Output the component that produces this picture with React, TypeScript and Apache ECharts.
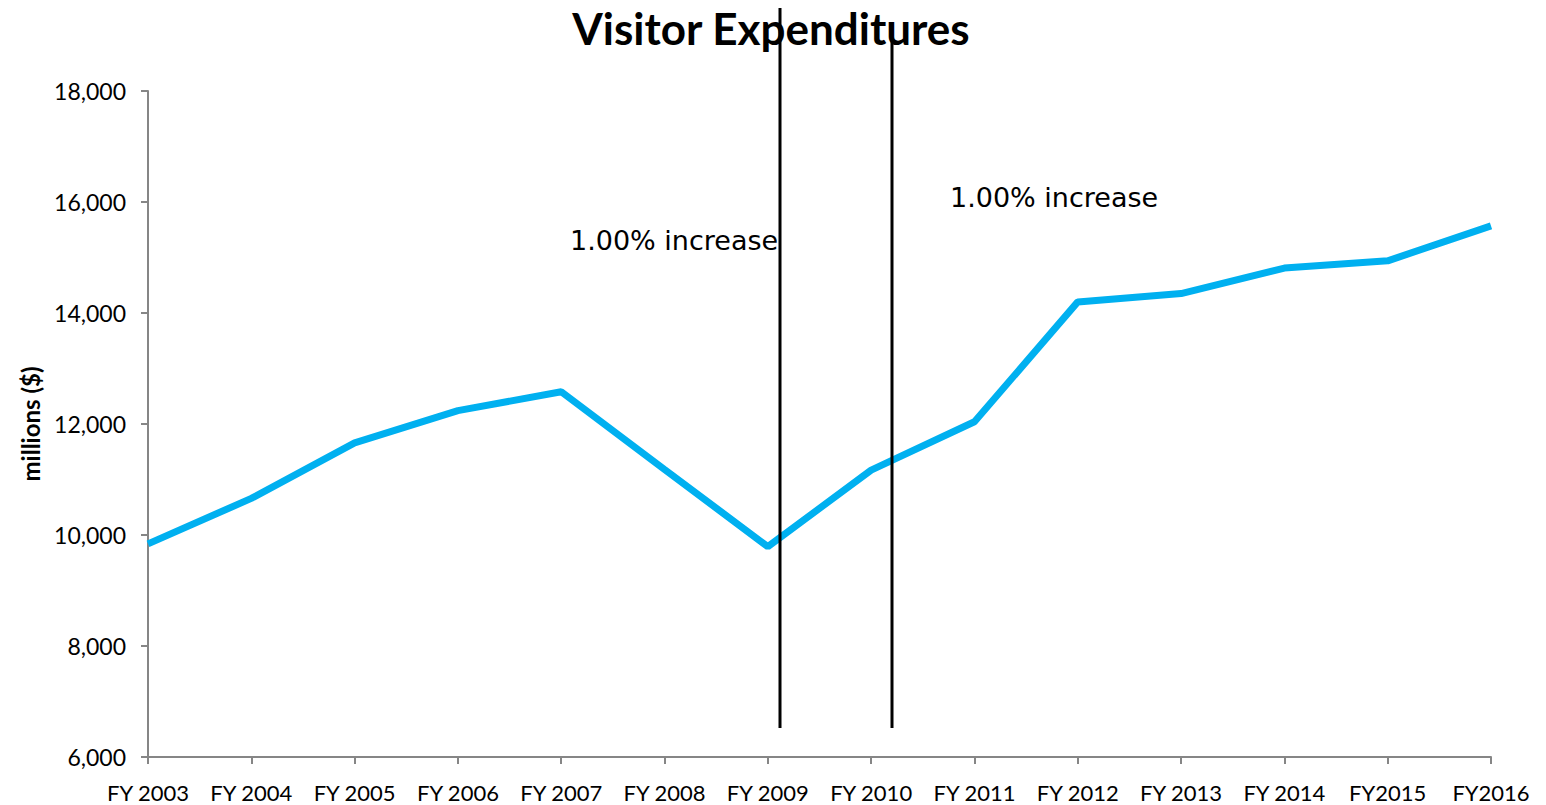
import React, { useEffect, useRef } from "react";
import * as echarts from "echarts";

const categories = ["FY 2003", "FY 2004", "FY 2005", "FY 2006", "FY 2007", "FY 2008", "FY 2009", "FY 2010", "FY 2011", "FY 2012", "FY 2013", "FY 2014", "FY2015", "FY2016"];
const expenditures = [9840, 10660, 11660, 12240, 12580, 11180, 9790, 11170, 12040, 14200, 14350, 14810, 14940, 15570];
const yTicks = { min: 6000, max: 18000, interval: 2000 };
const annotationText = "1.00% increase";

export default function App() {
  const ref = useRef<HTMLDivElement>(null);
  useEffect(() => {
    if (!ref.current) return;
    const chart = echarts.init(ref.current, null, { renderer: "svg" });
    const labelFont = "Lato, 'Open Sans', sans-serif";
    const annFont = "'DejaVu Sans', sans-serif";
    chart.setOption({
      animation: false,
      backgroundColor: "#ffffff",
      title: {
        text: "Visitor Expenditures",
        left: 766,
        textAlign: "center",
        top: 1,
        textStyle: { fontFamily: labelFont, fontWeight: "bold", fontSize: 44, color: "#000" },
      },
      grid: { left: 148, right: 55, top: 91, bottom: 48 },
      xAxis: {
        type: "category",
        data: categories,
        boundaryGap: false,
        axisLine: { lineStyle: { color: "#868686", width: 2 } },
        axisTick: { alignWithLabel: true, length: 7, lineStyle: { color: "#868686", width: 2 } },
        axisLabel: { interval: 0, fontFamily: labelFont, fontSize: 22, color: "#000", margin: 24 },
      },
      yAxis: {
        type: "value",
        min: yTicks.min,
        max: yTicks.max,
        interval: yTicks.interval,
        name: "millions ($)",
        nameLocation: "middle",
        nameGap: 106,
        nameTextStyle: { fontFamily: labelFont, fontWeight: "bold", fontSize: 24, color: "#000" },
        splitLine: { show: false },
        axisLine: { show: true, lineStyle: { color: "#868686", width: 2 } },
        axisTick: { show: true, length: 7, lineStyle: { color: "#868686", width: 2 } },
        axisLabel: {
          fontFamily: labelFont,
          fontSize: 23,
          color: "#000",
          margin: 22,
          formatter: (v: number) => v.toLocaleString("en-US"),
        },
      },
      series: [
        {
          type: "line",
          data: expenditures,
          symbol: "none",
          lineStyle: { color: "#00B0F0", width: 7 },
          z: 2,
        },
      ],
      graphic: [
        { type: "line", z: 10, shape: { x1: 780, y1: 8, x2: 780, y2: 728 }, style: { stroke: "#000", lineWidth: 3 } },
        { type: "line", z: 10, shape: { x1: 892, y1: 40, x2: 892, y2: 728 }, style: { stroke: "#000", lineWidth: 3 } },
        {
          type: "text",
          x: 570,
          y: 240,
          style: { text: annotationText, fontFamily: annFont, fontSize: 27, fill: "#000", textVerticalAlign: "middle" },
        },
        {
          type: "text",
          x: 950,
          y: 197,
          style: { text: annotationText, fontFamily: annFont, fontSize: 27, fill: "#000", textVerticalAlign: "middle" },
        },
      ],
    });
    return () => chart.dispose();
  }, []);
  return <div ref={ref} style={{ position: "fixed", left: 0, top: 0, width: 1546, height: 805 }} />;
}
